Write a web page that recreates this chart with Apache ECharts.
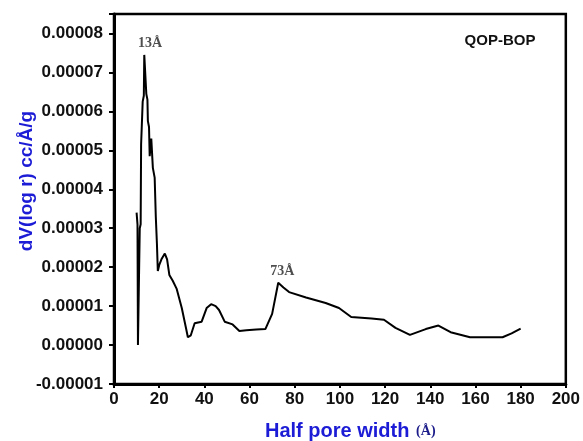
<!DOCTYPE html>
<html><head><meta charset="utf-8">
<script src="https://cdn.jsdelivr.net/npm/echarts@6/dist/echarts.min.js"></script>
<style>html,body{margin:0;padding:0;background:#fff}#c{width:583px;height:441px}</style>
</head><body><div id="c"></div>
<script>
// Half pore width (Å)
const poreWidth = [10.0,10.4,10.6,11.2,11.4,11.8,12.0,12.5,12.7,13.2,13.4,14.0,14.3,14.8,15.0,15.5,15.8,16.3,16.5,17.0,17.2,18.0,18.5,19.0,19.4,20.0,21.0,22.5,23.5,24.5,26,27.7,30,32,32.7,34,35.7,38.8,41,43,45,46.5,49,52.5,55.5,58.6,63,67,70,72.7,75,77.5,85,93.7,99.6,105,114,119.5,124.6,131,138,143.6,149,157.6,165,172,176,180];
// dV(log r) cc/Å/g
const dV = [3.4e-5,3.1e-5,0,0,3.0e-5,3.1e-5,5.15e-5,5.2e-5,6.25e-5,6.4e-5,7.45e-5,7.4e-5,6.45e-5,6.3e-5,5.75e-5,5.6e-5,4.85e-5,4.8e-5,5.3e-5,5.25e-5,4.55e-5,4.3e-5,3.3e-5,2.6e-5,1.9e-5,2.05e-5,2.2e-5,2.35e-5,2.2e-5,1.8e-5,1.65e-5,1.45e-5,0.95e-5,0.4e-5,0.2e-5,0.25e-5,0.56e-5,0.6e-5,0.95e-5,1.05e-5,1.0e-5,0.9e-5,0.6e-5,0.53e-5,0.36e-5,0.38e-5,0.4e-5,0.41e-5,0.8e-5,1.6e-5,1.48e-5,1.36e-5,1.22e-5,1.08e-5,0.95e-5,0.72e-5,0.68e-5,0.65e-5,0.44e-5,0.26e-5,0.41e-5,0.5e-5,0.33e-5,0.2e-5,0.2e-5,0.2e-5,0.3e-5,0.42e-5];
// peak annotations
const peakLabels = ['13Å','73Å'];
const peakX = [16, 74.5];
const peakY = [7.74e-5, 1.9e-5];
const sampleName = 'QOP-BOP';
const xTitle = 'Half pore width';
const xUnit = '(Å)';
const yTitle = 'dV(log r) cc/Å/g';

const chart = echarts.init(document.getElementById('c'));
const data = poreWidth.map((x,i)=>[x,dV[i]]);
const font = 'Arial, "Liberation Sans", sans-serif';
const serif = '"Liberation Serif", "Times New Roman", serif';
chart.setOption({
  animation:false,
  grid:{left:114,right:14,top:14,bottom:57,show:true,borderColor:'#000',borderWidth:2.5},
  graphic:[
    {type:'text',x:27,y:181,rotation:Math.PI/2,style:{text:yTitle,fontFamily:font,fontWeight:'bold',fontSize:19,fill:'#1c1cd6',align:'center',verticalAlign:'middle'}},
    {type:'text',x:265,y:431,style:{text:'{a|'+xTitle+'}  {b|'+xUnit+'}',rich:{a:{fontFamily:font,fontWeight:'bold',fontSize:20,fill:'#1c1cd6'},b:{fontFamily:serif,fontWeight:'bold',fontSize:14,fill:'#1c1c8a'}},align:'left',verticalAlign:'middle'}},
    {type:'text',x:500,y:41,style:{text:sampleName,fontFamily:font,fontWeight:'bold',fontSize:15,fill:'#111',align:'center',verticalAlign:'middle'}}
  ],
  xAxis:{type:'value',min:0,max:200,interval:20,
    axisLine:{onZero:false,lineStyle:{color:'#000',width:3}},
    axisTick:{length:4,lineStyle:{color:'#000',width:2}},
    axisLabel:{fontFamily:font,fontWeight:'bold',fontSize:17,color:'#111',margin:7},
    splitLine:{show:false}},
  yAxis:{type:'value',min:-0.00001,max:0.000085,interval:0.00001,
    axisLine:{onZero:false,lineStyle:{color:'#000',width:3}},
    axisTick:{length:5,lineStyle:{color:'#000',width:2}},
    axisLabel:{fontFamily:font,fontWeight:'bold',fontSize:17,color:'#111',margin:11,
      formatter:v=>v>0.0000845?'':v.toFixed(5)},
    splitLine:{show:false}},
  series:[
    {type:'line',data:data,symbol:'none',lineStyle:{color:'#000',width:2}},
    {type:'scatter',symbolSize:0,data:peakX.map((x,i)=>[x,peakY[i],peakLabels[i]]),
      label:{show:true,position:'inside',formatter:p=>p.data[2],fontFamily:serif,fontWeight:'bold',fontSize:14,color:'#222'}}
  ]
});
</script></body></html>
